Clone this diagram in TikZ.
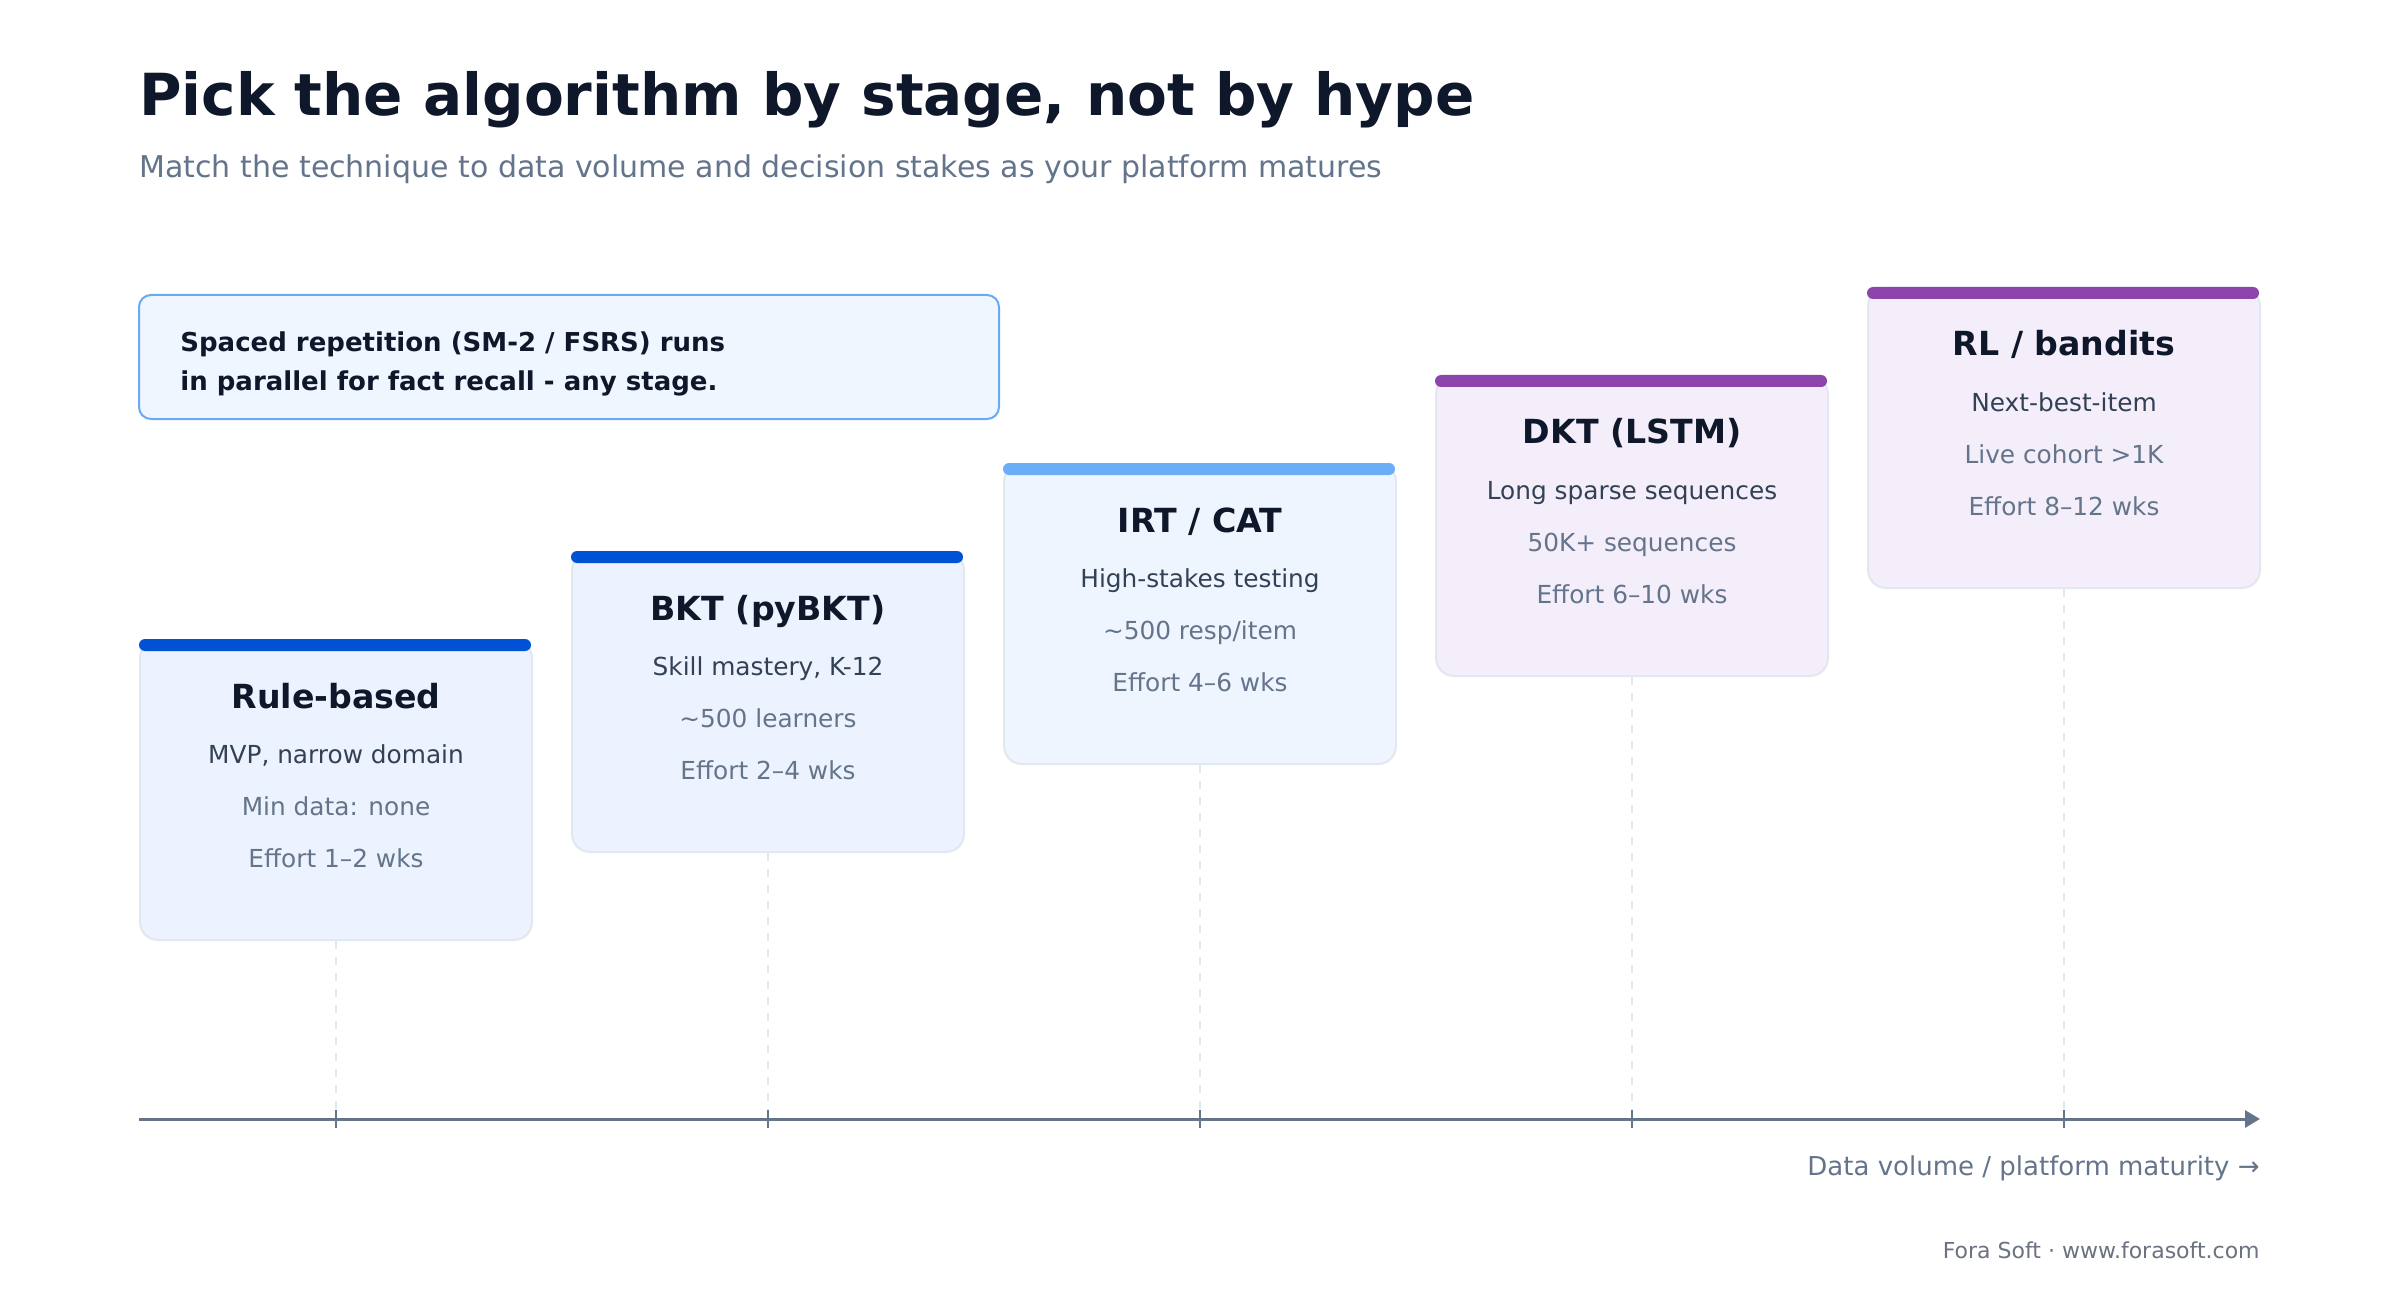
\documentclass[tikz,border=0pt]{standalone}
\usepackage{fontspec}
\setmainfont{DejaVu Sans}
\usetikzlibrary{arrows.meta}
\definecolor{ink}{HTML}{0F172A}
\definecolor{body}{HTML}{334155}
\definecolor{muted}{HTML}{64748B}
\definecolor{foot}{HTML}{6B7280}
\definecolor{cardline}{HTML}{E2E8F0}
\definecolor{barblue}{HTML}{0052D4}
\definecolor{barlight}{HTML}{6AAEF8}
\definecolor{barpurple}{HTML}{8E44AD}
\definecolor{fillblue}{HTML}{EDF3FE}
\definecolor{filllight}{HTML}{EEF5FF}
\definecolor{fillpurple}{HTML}{F4EEFA}
\definecolor{notefill}{HTML}{EFF6FF}
\definecolor{noteline}{HTML}{6AAAF5}
\newcommand\mkcard[9]{%
  \node[card, fill=#4] (#1) at (#2,#3+150) {};
  \fill[#5, rounded corners=3pt] (#1.north west) rectangle ++(392,12);
  \node[cardtitle] (#1t) at (#2,#3+68) {#6};
  \node[cardbody] (#1a) at (#2,#3+123) {#7};
  \node[cardmuted] (#1b) at (#2,#3+175) {#8};
  \node[cardmuted] (#1c) at (#2,#3+227) {#9};
}
\begin{document}
\begin{tikzpicture}[x=0.5pt,y=-0.5pt,
  card/.style={draw=cardline, line width=1pt, rounded corners=9pt, minimum width=196pt, minimum height=150pt, inner sep=0pt},
  txt/.style={inner sep=0pt, anchor=base},
  cardtitle/.style={txt, font=\fontsize{16.6}{19}\selectfont\bfseries, text=ink},
  cardbody/.style={txt, font=\fontsize{12.4}{14}\selectfont, text=body},
  cardmuted/.style={txt, font=\fontsize{12.4}{14}\selectfont, text=muted},
  guide/.style={draw=cardline, line width=1pt, dash pattern=on 4pt off 4pt},
  axisline/.style={draw=muted, line width=1.5pt},
  tickline/.style={draw=muted, line width=1pt}]
\fill[white] (0,0) rectangle (2400,1300);
\useasboundingbox (0,0) rectangle (2400,1300);

% headings
\node[txt, anchor=base west, font=\fontsize{29}{34}\selectfont\bfseries, text=ink] (title) at (139,116) {Pick the algorithm by stage, not by hype};
\node[txt, anchor=base west, font=\fontsize{15}{18}\selectfont, text=muted] (subtitle) at (139,178) {Match the technique to data volume and decision stakes as your platform matures};

% note
\node[draw=noteline, fill=notefill, line width=1pt, rounded corners=6pt, minimum width=430pt, minimum height=62pt, inner sep=0pt] (note) at (569,357) {};
\node[txt, anchor=base west, font=\fontsize{13}{15}\selectfont\bfseries, text=ink] (note1) at (180,351) {Spaced repetition (SM-2 / FSRS) runs};
\node[txt, anchor=base west, font=\fontsize{13}{15}\selectfont\bfseries, text=ink] (note2) at (180,391) {in parallel for fact recall - any stage.};

% axis tick coordinates
\coordinate (t1) at (336,1119);
\coordinate (t2) at (768,1119);
\coordinate (t3) at (1200,1119);
\coordinate (t4) at (1632,1119);
\coordinate (t5) at (2064,1119);

% cards
\mkcard{c1}{336}{640}{fillblue}{barblue}{Rule-based}{MVP, narrow domain}{Min data: none}{Effort 1–2 wks}
\mkcard{c2}{768}{552}{fillblue}{barblue}{BKT (pyBKT)}{Skill mastery, K-12}{\textasciitilde500 learners}{Effort 2–4 wks}
\mkcard{c3}{1200}{464}{filllight}{barlight}{IRT / CAT}{High-stakes testing}{\textasciitilde500 resp/item}{Effort 4–6 wks}
\mkcard{c4}{1632}{376}{fillpurple}{barpurple}{DKT (LSTM)}{Long sparse sequences}{50K+ sequences}{Effort 6–10 wks}
\mkcard{c5}{2064}{288}{fillpurple}{barpurple}{RL / bandits}{Next-best-item}{Live cohort >1K}{Effort 8–12 wks}

% guides
\foreach \i in {1,...,5} {
  \draw[guide] (c\i.south) -- (t\i);
}

% axis
\coordinate (axstart) at (139,1119);
\coordinate (axend) at (2260,1119);
\draw[axisline, -{Triangle[length=7.5pt,width=8.5pt]}] (axstart) -- (axend);
\foreach \i in {1,...,5} {
  \draw[tickline] ([yshift=4.5pt]t\i) -- ([yshift=-4.5pt]t\i);
}

\node[txt, anchor=base east, font=\fontsize{13}{15}\selectfont, text=muted] (axlabel) at (2260,1175) {Data volume / platform maturity →};
\node[txt, anchor=base east, font=\fontsize{11}{13}\selectfont, text=foot] (footer) at (2260,1258) {Fora Soft · www.forasoft.com};
\end{tikzpicture}
\end{document}
